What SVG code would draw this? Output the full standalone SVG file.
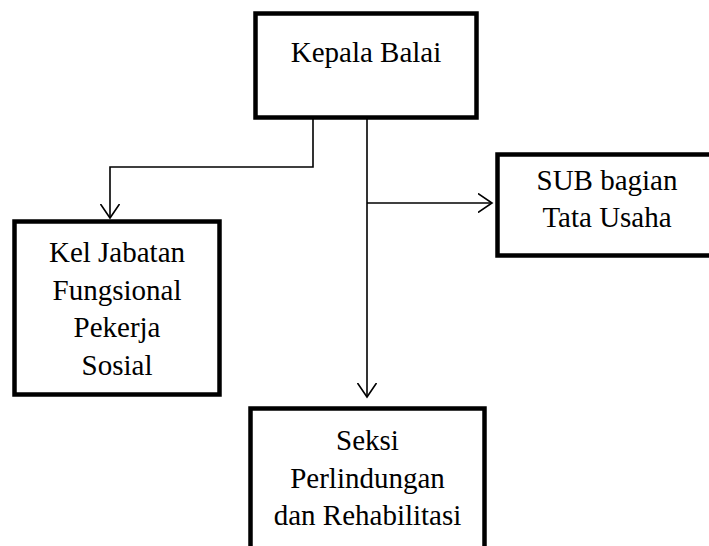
<svg xmlns="http://www.w3.org/2000/svg" width="709" height="546" viewBox="0 0 709 546">
<style>
.box{fill:#fff;stroke:#000;stroke-width:4.5}
.t{font-family:"Liberation Serif","Times New Roman",serif;font-size:29px;fill:#000;text-anchor:middle}
.c{fill:none;stroke:#000;stroke-width:1.6}
</style>
<defs>
<marker id="arr" markerWidth="20" markerHeight="20" refX="14" refY="10" orient="auto" markerUnits="userSpaceOnUse">
<path d="M0,0.5 L14,10 L0,19.5" fill="none" stroke="#000" stroke-width="1.6"/>
</marker>
</defs>
<rect width="709" height="546" fill="#fff"/>
<g id="connectors">
<path class="c" d="M313,119 V167 H110 V218" marker-end="url(#arr)"/>
<path class="c" d="M367,119 V397" marker-end="url(#arr)"/>
<path class="c" d="M367,203 H492" marker-end="url(#arr)"/>
</g>
<g id="kepala">
<rect class="box" x="255.5" y="13.5" width="221" height="104"/>
<text class="t" x="366" y="62">Kepala Balai</text>
</g>
<g id="kel">
<rect class="box" x="14.5" y="221.5" width="205" height="173"/>
<text class="t" x="117" y="262">Kel Jabatan</text>
<text class="t" x="117" y="300">Fungsional</text>
<text class="t" x="117" y="337">Pekerja</text>
<text class="t" x="117" y="375">Sosial</text>
</g>
<g id="sub">
<rect class="box" x="497.5" y="154.5" width="215" height="101"/>
<text class="t" x="607" y="190">SUB bagian</text>
<text class="t" x="607" y="227">Tata Usaha</text>
</g>
<g id="seksi">
<rect class="box" x="250.5" y="408.5" width="234" height="150"/>
<text class="t" x="367.5" y="450">Seksi</text>
<text class="t" x="367.5" y="488">Perlindungan</text>
<text class="t" x="367.5" y="525">dan Rehabilitasi</text>
</g>
</svg>
